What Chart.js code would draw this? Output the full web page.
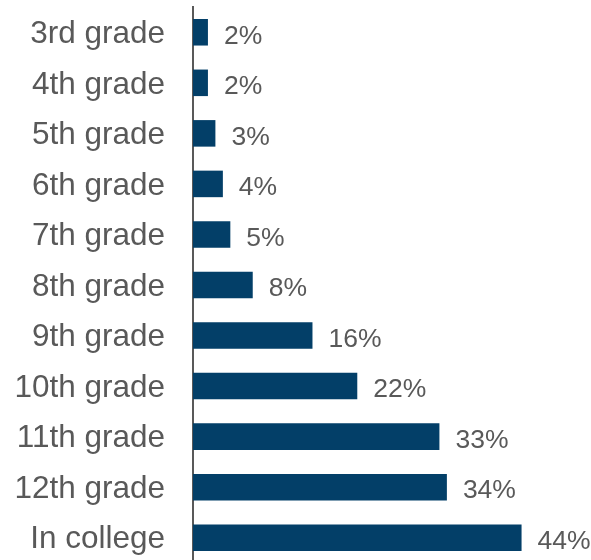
<!DOCTYPE html>
<html>
<head>
<meta charset="utf-8">
<script src="https://cdn.jsdelivr.net/npm/chart.js@4/dist/chart.umd.min.js"></script>
<style>
    html, body { margin: 0; padding: 0; background: #ffffff; overflow: hidden; }
    #wrap { width: 591px; height: 560px; overflow: hidden; }
</style>
</head>
<body>
<div id="wrap"><canvas id="chart" width="591" height="563"></canvas></div>
<script>
// Data
const grades = ["3rd grade", "4th grade", "5th grade", "6th grade", "7th grade", "8th grade",
    "9th grade", "10th grade", "11th grade", "12th grade", "In college"];
const shares = [2, 2, 3, 4, 5, 8, 16, 22, 33, 34, 44];

// Style
const barColor = "#033f68";
const textColor = "#595959";
const fontFamily = "'Liberation Sans', Arial, sans-serif";

// Value labels at the end of each bar
const valueLabels = {
    id: "valueLabels",
    afterDatasetsDraw(chart) {
        const ctx = chart.ctx;
        const meta = chart.getDatasetMeta(0);
        ctx.save();
        ctx.font = "26.5px " + fontFamily;
        ctx.fillStyle = textColor;
        ctx.textAlign = "left";
        ctx.textBaseline = "middle";
        meta.data.forEach((bar, i) => {
            ctx.fillText(shares[i] + "%", bar.x + 16, bar.y + 4);
        });
        ctx.restore();
    }
};

new Chart(document.querySelector("#chart"), {
    type: "bar",
    data: {
        labels: grades,
        datasets: [{
            data: shares,
            backgroundColor: barColor,
            borderWidth: 0,
            categoryPercentage: 1,
            barPercentage: 0.525
        }]
    },
    plugins: [valueLabels],
    options: {
        indexAxis: "y",
        responsive: false,
        animation: false,
        devicePixelRatio: 1,
        layout: {padding: {top: 7, right: 0, bottom: 0, left: 0}},
        plugins: {
            legend: {display: false},
            tooltip: {enabled: false}
        },
        scales: {
            x: {
                display: false,
                min: 0,
                max: 53.3
            },
            y: {
                afterFit: (scale) => {
                    scale.width = 193;
                    scale.paddingTop = 0;
                    scale.paddingBottom = 0;
                },
                grid: {display: false, drawTicks: false},
                border: {display: true, color: textColor, width: 2},
                ticks: {
                    color: textColor,
                    padding: 28,
                    labelOffset: 2,
                    font: {family: fontFamily, size: 31.5}
                }
            }
        }
    }
});
</script>
</body>
</html>
